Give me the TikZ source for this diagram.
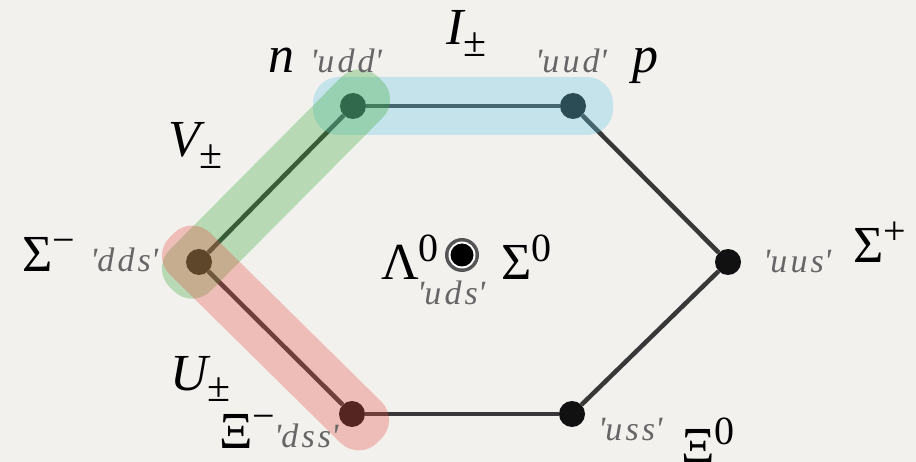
\documentclass[tikz,border=0pt]{standalone}
\usepackage{fontspec}
\setmainfont{Liberation Serif}
\usetikzlibrary{calc}
\definecolor{bg}{HTML}{F2F1EE}
\definecolor{edgec}{HTML}{383838}
\definecolor{dotc}{HTML}{111111}
\definecolor{quarkc}{HTML}{666666}
\definecolor{ringc}{HTML}{555555}
\definecolor{blueb}{RGB}{100,200,230}
\definecolor{greenb}{RGB}{60,170,60}
\definecolor{redb}{RGB}{230,80,70}
\newcommand{\qk}[1]{\textquotesingle#1\textquotesingle}
\newcommand{\sups}[1]{\raisebox{0.36em}{\fontsize{40}{40}\selectfont #1}}
\newcommand{\subs}[1]{\raisebox{-0.22em}{\fontsize{42}{42}\selectfont #1}}
\begin{document}
\begin{tikzpicture}[x=1pt,y=-1pt,
  dot/.style={circle,fill=dotc,inner sep=0pt,minimum size=26pt},
  edge/.style={draw=edgec,line width=4.5pt},
  big/.style={font=\fontsize{52}{56}\selectfont,inner sep=0pt,anchor=base west},
  quark/.style={font=\fontsize{34}{38}\selectfont\itshape\addfontfeatures{LetterSpace=9},text=quarkc,inner sep=0pt,anchor=base west},
  band/.style={rectangle,rounded corners=26pt,minimum height=58pt,inner sep=0pt,fill opacity=0.32}]
\fill[bg] (0,0) rectangle (916,462);
\useasboundingbox (0,0) rectangle (916,462);
% vertices
\node[dot] (n) at (353,106) {};
\node[dot] (p) at (573,106) {};
\node[dot] (sm) at (199,262) {};
\node[dot] (sp) at (728,262) {};
\node[dot] (xm) at (352,414) {};
\node[dot] (x0) at (572,414) {};
% centre ring
\node[circle,fill=ringc,inner sep=0pt,minimum size=34pt] (ring) at (462,255) {};
\node[circle,fill=white,inner sep=0pt,minimum size=27pt] (ringw) at (ring.center) {};
\node[circle,fill=black,inner sep=0pt,minimum size=23pt] (ringc) at (ring.center) {};
% edges
\draw[edge] (n) -- (p);
\draw[edge] (p) -- (sp);
\draw[edge] (sp) -- (x0);
\draw[edge] (x0) -- (xm);
\draw[edge] (xm) -- (sm);
\draw[edge] (sm) -- (n);
% bands
\node[band,fill=blueb,minimum width=300pt] (bI) at (463,106) {};
\node[band,fill=greenb,minimum width=296pt,rotate=45.2] (bV) at ($(sm)!0.5!(n)$) {};
\node[band,fill=redb,minimum width=292pt,rotate=-44.6] (bU) at ($(sm)!0.5!(xm)$) {};
% labels
\node[big] (ln) at (268,73) {\itshape n};
\node[quark] (qn) at (310,73) {\qk{udd}};
\node[big] (lI) at (446,45) {\itshape I\subs{\upshape ±}};
\node[quark] (qp) at (535,73) {\qk{uud}};
\node[big] (lp) at (632,73) {\itshape p};
\node[big] (lV) at (168,157) {\itshape V\subs{\upshape ±}};
\node[big] (lsm) at (22,272) {Σ\sups{−}};
\node[quark] (qsm) at (90,272) {\qk{dds}};
\node[big] (llam) at (381,280) {Λ\sups{0}};
\node[big] (ls0) at (501,280) {Σ\sups{0}};
\node[quark] (qlam) at (417,305) {\qk{uds}};
\node[quark] (qsp) at (763,273) {\qk{uus}};
\node[big] (lsp) at (853,263) {Σ\sups{+}};
\node[big] (lU) at (170,390) {\itshape U\subs{\upshape ±}};
\node[big] (lxm) at (219,448) {Ξ\sups{−}};
\node[quark] (qxm) at (274,447) {\qk{dss}};
\node[quark] (qx0) at (598,440) {\qk{uss}};
\node[big] (lx0) at (681,463) {Ξ\sups{0}};
\end{tikzpicture}
\end{document}
